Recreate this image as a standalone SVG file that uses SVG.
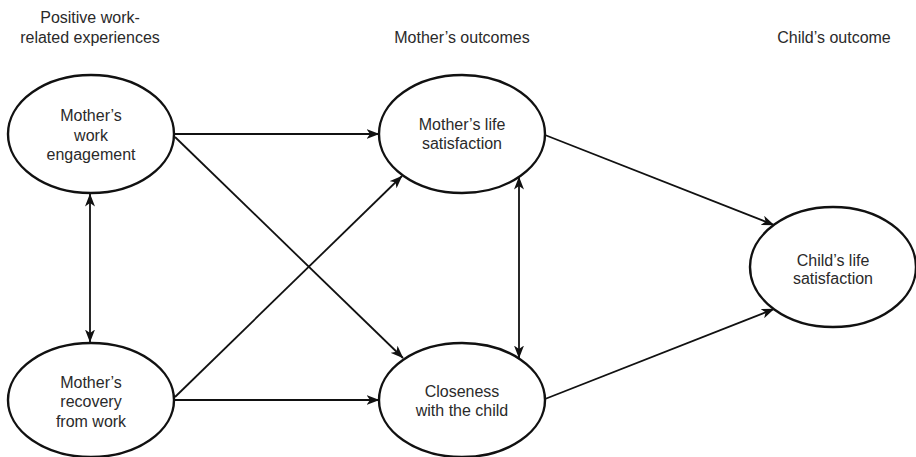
<svg xmlns="http://www.w3.org/2000/svg" width="916" height="457" viewBox="0 0 916 457">
<style>
text{font-family:"Liberation Sans",Arial,sans-serif;font-size:16px;fill:#2a2a2a;text-anchor:middle}
ellipse{fill:#fff;stroke:#111;stroke-width:2.4}
.c line{stroke:#111;stroke-width:1.8;fill:none}
</style>
<defs>
<marker id="ah" viewBox="0 0 13 10" refX="12.5" refY="5" markerWidth="13" markerHeight="10" markerUnits="userSpaceOnUse" orient="auto-start-reverse">
<path d="M0,0 L13,5 L0,10 L3.5,5 Z" fill="#111"/>
</marker>
</defs>
<rect width="916" height="457" fill="#fff"/>
<g id="headers">
<text x="90" y="23">Positive work-</text>
<text x="90" y="43">related experiences</text>
<text x="462" y="43">Mother’s outcomes</text>
<text x="834" y="43">Child’s outcome</text>
</g>
<g id="n1"><ellipse cx="91" cy="134" rx="83" ry="59"/>
<text x="91" y="121">Mother’s</text><text x="91" y="141">work</text><text x="91" y="160">engagement</text></g>
<g id="n2"><ellipse cx="91" cy="400" rx="83" ry="57"/>
<text x="91" y="388">Mother’s</text><text x="91" y="407">recovery</text><text x="91" y="427">from work</text></g>
<g id="n3"><ellipse cx="462" cy="134" rx="83" ry="59"/>
<text x="462" y="130">Mother’s life</text><text x="462" y="149">satisfaction</text></g>
<g id="n4"><ellipse cx="462" cy="400" rx="83" ry="57"/>
<text x="462" y="397">Closeness</text><text x="462" y="416">with the child</text></g>
<g id="n5"><ellipse cx="833" cy="267" rx="83" ry="60"/>
<text x="833" y="266">Child’s life</text><text x="833" y="284">satisfaction</text></g>
<g class="c" id="connectors">
<line x1="175" y1="134" x2="379" y2="134" marker-end="url(#ah)"/>
<line x1="175" y1="137" x2="403" y2="358" marker-end="url(#ah)"/>
<line x1="175" y1="400" x2="379" y2="400" marker-end="url(#ah)"/>
<line x1="175" y1="397" x2="402" y2="176" marker-end="url(#ah)"/>
<line x1="90" y1="194" x2="90" y2="342" marker-start="url(#ah)" marker-end="url(#ah)"/>
<line x1="519" y1="177" x2="519" y2="358" marker-start="url(#ah)" marker-end="url(#ah)"/>
<line x1="545" y1="135" x2="774" y2="225" marker-end="url(#ah)"/>
<line x1="545" y1="399" x2="774" y2="309" marker-end="url(#ah)"/>
</g>
</svg>
